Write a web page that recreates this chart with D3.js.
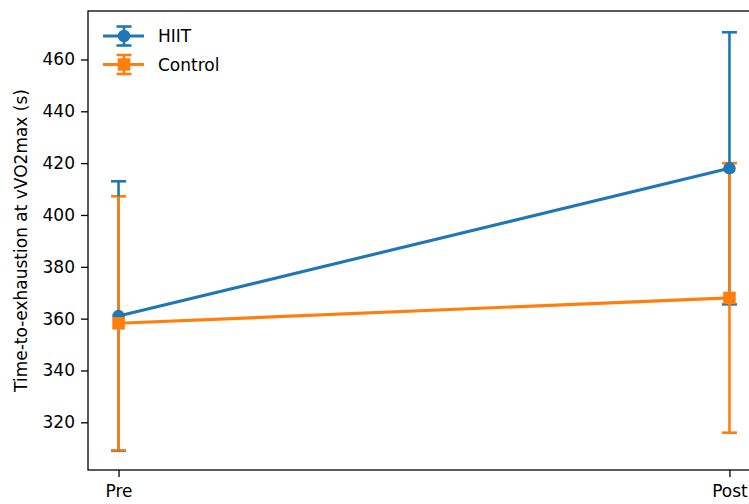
<!DOCTYPE html>
<html>
<head>
<meta charset="utf-8">
<script src="https://cdn.jsdelivr.net/npm/d3@7"></script>
<style>
  body { margin: 0; background: #fff; }
  svg { display: block; font-family: 'DejaVu Sans', sans-serif; }
</style>
</head>
<body>
<svg id="chart" width="749" height="504"></svg>
<script>
// data
var phases = ['Pre', 'Post'];
var hiitMean = [361, 418];
var hiitErr = [52, 52.5];
var controlMean = [358.2, 368];
var controlErr = [49, 52];
var yTicks = [320, 340, 360, 380, 400, 420, 440, 460];

var series = [
  { name: 'HIIT', mean: hiitMean, err: hiitErr, color: '#1f77b4', marker: 'circle' },
  { name: 'Control', mean: controlMean, err: controlErr, color: '#ff7f0e', marker: 'square' }
];

var svg = d3.select('#chart');
// note: 'top' clashes with window.top, so plot box edges get their own names
var pLeft = 88, pTop = 11, pBottom = 470, pRight = 760;
var fs = 17;

var x = d3.scaleLinear().domain([-0.05, 1.05]).range([pLeft, pRight]);
var y = d3.scaleLinear().domain([301.6, 478.7]).range([pBottom, pTop]);

var lw = 2.6, cap = 7.5, msize = 12.5;

// error bars: caps under bars, bars under lines/markers
var plot = svg.append('g');
series.forEach(function(s) {
  var g = plot.append('g');
  s.mean.forEach(function(m, i) {
    [m - s.err[i], m + s.err[i]].forEach(function(v) {
      g.append('line')
        .attr('x1', x(i) - cap).attr('x2', x(i) + cap)
        .attr('y1', y(v)).attr('y2', y(v))
        .attr('stroke', s.color).attr('stroke-width', lw);
    });
  });
});
series.forEach(function(s) {
  s.mean.forEach(function(m, i) {
    plot.append('line')
      .attr('x1', x(i)).attr('x2', x(i))
      .attr('y1', y(m - s.err[i])).attr('y2', y(m + s.err[i]))
      .attr('stroke', s.color).attr('stroke-width', lw);
  });
});
series.forEach(function(s) {
  plot.append('path')
    .datum(s.mean)
    .attr('fill', 'none').attr('stroke', s.color).attr('stroke-width', lw + 0.5)
    .attr('d', d3.line().x(function(d, i) { return x(i); }).y(function(d) { return y(d); }));
  s.mean.forEach(function(m, i) {
    drawMarker(plot, s, x(i), y(m));
  });
});

function drawMarker(g, s, cx, cy) {
  if (s.marker === 'circle') {
    g.append('circle').attr('cx', cx).attr('cy', cy).attr('r', msize / 2).attr('fill', s.color);
  } else {
    g.append('rect').attr('x', cx - msize / 2).attr('y', cy - msize / 2)
      .attr('width', msize).attr('height', msize).attr('fill', s.color);
  }
}

// axes
var yAxis = d3.axisLeft(y).tickValues(yTicks).tickSize(7).tickPadding(6);
var yg = svg.append('g').attr('transform', 'translate(' + pLeft + ',0)').call(yAxis);
var xAxis = d3.axisBottom(x).tickValues([0, 1]).tickFormat(function(d) { return phases[d]; }).tickSize(7).tickPadding(8);
var xg = svg.append('g').attr('transform', 'translate(0,' + pBottom + ')').call(xAxis);
[yg, xg].forEach(function(g) {
  g.select('.domain').remove();
  g.selectAll('.tick line').attr('stroke', '#000').attr('stroke-width', 1.3);
  g.selectAll('.tick text').attr('fill', '#000').style('font-size', fs + 'px').style('font-family', 'DejaVu Sans');
});

svg.append('rect')
  .attr('x', pLeft).attr('y', pTop)
  .attr('width', pRight - pLeft).attr('height', pBottom - pTop)
  .attr('fill', 'none').attr('stroke', '#000').attr('stroke-width', 1.3);

svg.append('text')
  .attr('transform', 'translate(27,' + ((pTop + pBottom) / 2) + ') rotate(-90)')
  .attr('text-anchor', 'middle')
  .style('font-size', fs + 'px')
  .text('Time-to-exhaustion at vVO2max (s)');

// legend
var leg = svg.append('g');
series.forEach(function(s, i) {
  var ly = 36 + i * 28.5;
  var cx = 124;
  leg.append('line').attr('x1', 103).attr('x2', 144).attr('y1', ly).attr('y2', ly)
    .attr('stroke', s.color).attr('stroke-width', lw + 0.5);
  leg.append('line').attr('x1', cx).attr('x2', cx).attr('y1', ly - 9.5).attr('y2', ly + 9.5)
    .attr('stroke', s.color).attr('stroke-width', lw);
  [ly - 9.5, ly + 9.5].forEach(function(cy) {
    leg.append('line').attr('x1', cx - cap).attr('x2', cx + cap).attr('y1', cy).attr('y2', cy)
      .attr('stroke', s.color).attr('stroke-width', lw);
  });
  drawMarker(leg, s, cx, ly);
  leg.append('text').attr('x', 158).attr('y', ly).attr('dy', '0.36em')
    .style('font-size', fs + 'px').text(s.name);
});
</script>
</body>
</html>
